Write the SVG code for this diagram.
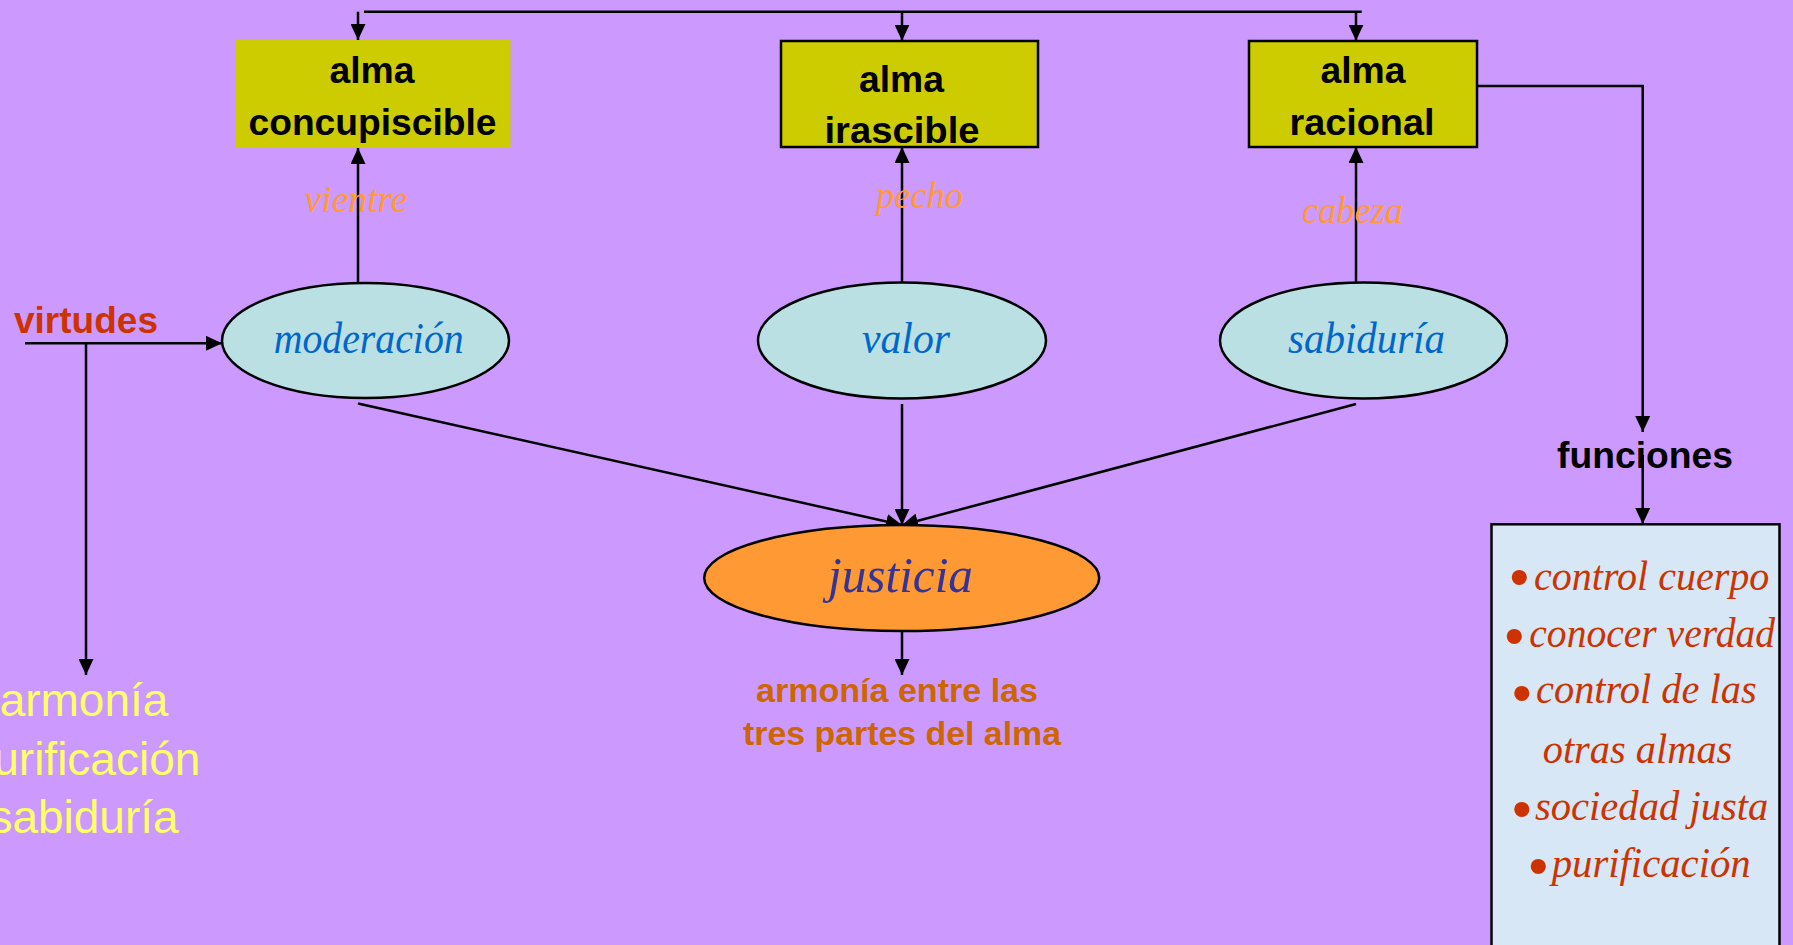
<svg xmlns="http://www.w3.org/2000/svg" width="1793" height="945" viewBox="0 0 1793 945">
<defs>
<marker id="ah" markerUnits="userSpaceOnUse" markerWidth="16" markerHeight="15" refX="16" refY="7.5" orient="auto"><path d="M0,0 L16,7.5 L0,15 z" fill="#000"/></marker>
</defs>
<style>
.box{fill:#CCCC00}
.bx{stroke:#000;stroke-width:2.5}
.lbl{font-family:"Liberation Sans",Arial,sans-serif;font-weight:bold;font-size:37px;fill:#000;text-anchor:middle}
.ell{fill:#BBE0E3;stroke:#000;stroke-width:2.5}
.it{font-family:"Liberation Serif","Times New Roman",serif;font-style:italic}
.vt{fill:#0066CC;font-size:45px;text-anchor:middle}
.bd{fill:#FF9933;font-size:38px;text-anchor:middle}
.fn{fill:#CC3300;font-size:43px}
.bul{font-family:"Liberation Sans",Arial,sans-serif;fill:#CC3300;font-size:56px;text-anchor:middle}
.c{fill:none;stroke:#000;stroke-width:2.5}
.a{marker-end:url(#ah)}
.yel{font-family:"Liberation Sans",Arial,sans-serif;font-size:46px;fill:#FFFF66;text-anchor:middle}
.res{font-family:"Liberation Sans",Arial,sans-serif;font-weight:bold;font-size:34px;fill:#CC6600;text-anchor:middle}
</style>
<rect x="0" y="0" width="1793" height="945" fill="#CC99FF"/>

<g id="connectors">
<path class="c" d="M364,11.7 H1361.7"/>
<path class="c a" d="M358,11.7 V40"/>
<path class="c a" d="M902,11.7 V40.7"/>
<path class="c a" d="M1356,11.7 V40.7"/>
<path class="c a" d="M358,283 V148"/>
<path class="c a" d="M902,283 V147"/>
<path class="c a" d="M1356,283 V147"/>
<path class="c a" d="M25,343.3 H222"/>
<path class="c a" d="M86,343.3 V675"/>
<path class="c a" d="M358,403.5 L902,525"/>
<path class="c a" d="M902,404 V525"/>
<path class="c a" d="M1356,404 L902,525"/>
<path class="c a" d="M902,631 V675"/>
<path class="c a" d="M1477,86 H1642.7 V432"/>
<path class="c a" d="M1642.7,455 V524"/>
</g>

<g id="alma-concupiscible">
<rect class="box" x="235.5" y="40" width="275" height="108"/>
<text class="lbl" x="372" y="83" textLength="85" lengthAdjust="spacingAndGlyphs">alma</text>
<text class="lbl" x="372.5" y="135" textLength="248" lengthAdjust="spacingAndGlyphs">concupiscible</text>
</g>

<g id="alma-irascible">
<rect class="box bx" x="781" y="41" width="257" height="106"/>
<text class="lbl" x="901.5" y="91.7" textLength="85" lengthAdjust="spacingAndGlyphs">alma</text>
<text class="lbl" x="902" y="143" textLength="155" lengthAdjust="spacingAndGlyphs">irascible</text>
</g>

<g id="alma-racional">
<rect class="box bx" x="1249" y="41" width="228" height="106"/>
<text class="lbl" x="1363" y="83" textLength="85" lengthAdjust="spacingAndGlyphs">alma</text>
<text class="lbl" x="1362" y="135" textLength="145" lengthAdjust="spacingAndGlyphs">racional</text>
</g>

<g id="label-vientre"><text class="it bd" x="356" y="211.7" textLength="103" lengthAdjust="spacingAndGlyphs">vientre</text></g>
<g id="label-pecho"><text class="it bd" x="919.5" y="208" textLength="87" lengthAdjust="spacingAndGlyphs">pecho</text></g>
<g id="label-cabeza"><text class="it bd" x="1352.5" y="222.7" textLength="101" lengthAdjust="spacingAndGlyphs">cabeza</text></g>

<g id="virtudes">
<text x="14" y="333.3" textLength="144" lengthAdjust="spacingAndGlyphs" style="font-family:'Liberation Sans',Arial,sans-serif;font-weight:bold;font-size:37px;fill:#CC3300">virtudes</text>
</g>

<g id="moderacion">
<ellipse class="ell" cx="365.5" cy="340.5" rx="143.5" ry="57.5"/>
<text class="it vt" x="368.7" y="352.7" textLength="190" lengthAdjust="spacingAndGlyphs">moderación</text>
</g>

<g id="valor">
<ellipse class="ell" cx="902" cy="340.5" rx="144" ry="58"/>
<text class="it vt" x="906" y="353" textLength="88" lengthAdjust="spacingAndGlyphs">valor</text>
</g>

<g id="sabiduria">
<ellipse class="ell" cx="1363.5" cy="340.5" rx="143.5" ry="58"/>
<text class="it vt" x="1366.5" y="353" textLength="157" lengthAdjust="spacingAndGlyphs">sabiduría</text>
</g>

<g id="justicia">
<ellipse cx="901.7" cy="578" rx="197.5" ry="53" fill="#FF9933" stroke="#000" stroke-width="2.5"/>
<text class="it" x="900.5" y="591.7" textLength="145" lengthAdjust="spacingAndGlyphs" style="font-size:50px;fill:#333399;text-anchor:middle">justicia</text>
</g>

<g id="armonia-resultado">
<text class="res" x="897" y="701.7" textLength="282" lengthAdjust="spacingAndGlyphs">armonía entre las</text>
<text class="res" x="902" y="745" textLength="318" lengthAdjust="spacingAndGlyphs">tres partes del alma</text>
</g>

<g id="virtudes-resultado">
<text class="yel" x="84" y="716">armonía</text>
<text class="yel" x="84" y="775">purificación</text>
<text class="yel" x="84" y="833">sabiduría</text>
</g>

<g id="funciones">
<text class="lbl" x="1645" y="468" textLength="176" lengthAdjust="spacingAndGlyphs">funciones</text>
</g>

<g id="funciones-lista">
<rect x="1491.5" y="524.3" width="288" height="440" fill="#D8E7F5" stroke="#000" stroke-width="2.5"/>
<text class="bul" x="1519.3" y="596">•</text>
<text class="it fn" x="1534" y="590" textLength="235.3" lengthAdjust="spacingAndGlyphs">control cuerpo</text>
<text class="bul" x="1514.3" y="655">•</text>
<text class="it fn" x="1529.3" y="646.7" textLength="245.7" lengthAdjust="spacingAndGlyphs">conocer verdad</text>
<text class="bul" x="1521.7" y="711.7">•</text>
<text class="it fn" x="1536" y="703.3" textLength="220.7" lengthAdjust="spacingAndGlyphs">control de las</text>
<text class="it fn" x="1542.7" y="763.3" textLength="189.6" lengthAdjust="spacingAndGlyphs">otras almas</text>
<text class="bul" x="1521.7" y="828.3">•</text>
<text class="it fn" x="1535" y="820" textLength="233.3" lengthAdjust="spacingAndGlyphs">sociedad justa</text>
<text class="bul" x="1538.3" y="885">•</text>
<text class="it fn" x="1551.7" y="876.7" textLength="199" lengthAdjust="spacingAndGlyphs">purificación</text>
</g>
</svg>
